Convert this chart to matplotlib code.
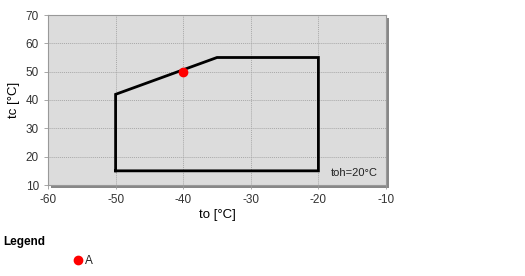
import matplotlib
matplotlib.use('Agg')
import matplotlib.pyplot as plt
from matplotlib.patches import Rectangle

plt.rcParams['font.family'] = ['Liberation Sans', 'DejaVu Sans']
plt.rcParams['axes.unicode_minus'] = False

# envelope corners (to, tc)
env_to = [-50, -50, -35, -20, -20, -50]
env_tc = [15, 42, 55, 55, 15, 15]
# operating point
pt_name = 'A'
pt_to = [-40]
pt_tc = [50]

xticks = [-60, -50, -40, -30, -20, -10]
yticks = [10, 20, 30, 40, 50, 60, 70]

fig = plt.figure(figsize=(5.25, 2.76), dpi=100)
ax = fig.add_axes([48/525, 91/276, 338/525, 170/276])

# drop shadow behind the plot area
shadow = Rectangle((0.009, -0.018), 1.0, 1.0, transform=ax.transAxes,
                   facecolor='#888888', edgecolor='none', zorder=-1, clip_on=False)
fig.patches.append(shadow)
shadow.set_transform(ax.transAxes)
ax.set_facecolor('#dcdcdc')
ax.set_zorder(1)

ax.plot(env_to, env_tc, color='black', lw=2, solid_joinstyle='miter')
ax.plot(pt_to, pt_tc, 'o', color='red', ms=6, zorder=5)

ax.set_xlim(-60, -10)
ax.set_ylim(10, 70)
ax.set_xticks(xticks)
ax.set_yticks(yticks)
ax.grid(True, color='#a8a8a8', linestyle=(0, (1, 1)), lw=0.7)
for s in ax.spines.values():
    s.set_color('#999999')
    s.set_linewidth(0.8)
ax.tick_params(labelsize=8.5, colors='#333333', length=3, width=0.6)
ax.tick_params(axis='both', color='#999999')
ax.set_xlabel('to [°C]', fontsize=9.5, labelpad=2)
ax.set_ylabel('tc [°C]', fontsize=9.5, labelpad=4)
ax.text(0.975, 0.04, 'toh=20°C', transform=ax.transAxes, ha='right', va='bottom',
        fontsize=8, color='#222222')

fig.text(3/525, 1 - 242/276, 'Legend', fontsize=8.5, fontweight='bold', va='center')
fig.lines.append(plt.Line2D([78/525], [1 - 260/276], marker='o', color='red',
                            ms=6, transform=fig.transFigure))
fig.text(85/525, 1 - 261/276, pt_name, fontsize=8.5, va='center', color='#222222')

fig.savefig('out.png', dpi=100)
